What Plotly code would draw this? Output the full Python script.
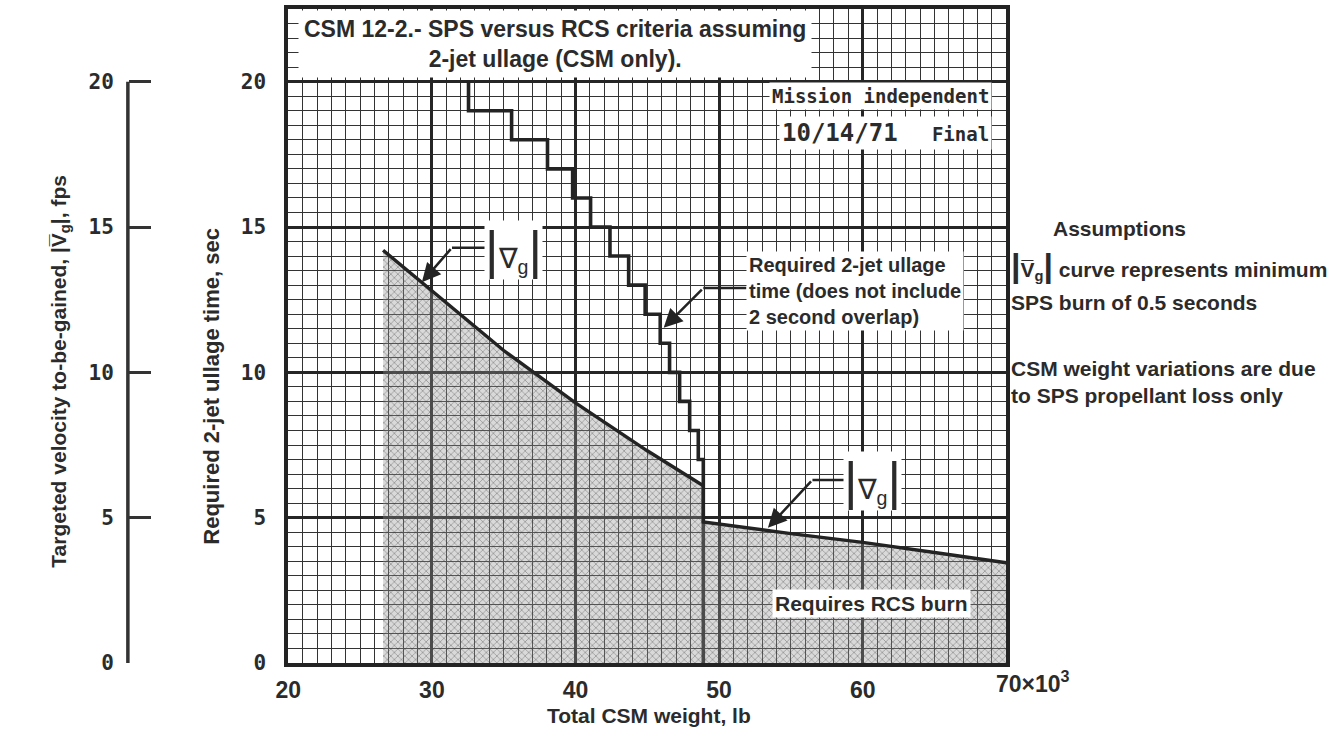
import plotly.graph_objects as go

# ---------------- data ----------------
# |Vg| minimum-burn boundary: total CSM weight (x10^3 lb) vs targeted velocity (fps)
VG_WEIGHT = [26.6, 30.0, 35.0, 40.0, 45.0, 48.9, 48.9, 55.0, 60.0, 65.0, 70.0]
VG_FPS = [14.2, 12.8, 10.75, 8.95, 7.3, 6.1, 4.85, 4.45, 4.15, 3.8, 3.45]

# Required 2-jet ullage time staircase (x10^3 lb, sec)
STEP_WEIGHT = [32.55, 32.55, 35.55, 38.05, 39.8, 41.05, 42.4, 43.7, 44.85,
               45.9, 46.55, 47.25, 47.95, 48.55, 48.9]
STEP_TIME = [20, 19, 18, 17, 16, 15, 14, 13, 12, 11, 10, 9, 8, 7, 0]

X_TICKS = [20, 30, 40, 50, 60]
X_TICK_LABELS = ["20", "30", "40", "50", "60"]
X_LAST_TICK = 70
X_LAST_LABEL = "70×10<sup>3</sup>"
Y_TICKS = [0, 5, 10, 15, 20]
Y_TICK_LABELS = ["0", "5", "10", "15", "20"]
X_RANGE = [20, 70]
Y_RANGE = [0, 22.5]

# ---------------- layout geometry ----------------
W, H = 1344, 743
PL, PR, PT, PB = 278, 1003, 9, 663
INK = "#232323"
TXT = "#2b2b2b"
SANS = "Liberation Sans, Arial, sans-serif"
MONO = "DejaVu Sans Mono, Liberation Mono, monospace"


def px_x(px):
    return px / W


def px_y(py):
    return (PB - py) / (PB - PT)


fig = go.Figure()

# ullage staircase (main axis, sec)
fig.add_trace(go.Scatter(
    x=STEP_WEIGHT, y=STEP_TIME, mode="lines",
    line=dict(shape="hv", color=INK, width=3.6),
    hoverinfo="skip", showlegend=False,
))

# |Vg| boundary + "Requires RCS burn" region (left axis, fps)
fig.add_trace(go.Scatter(
    x=VG_WEIGHT, y=VG_FPS, mode="lines", yaxis="y2",
    line=dict(color=INK, width=3.4),
    fill="tozeroy", fillcolor="rgba(150,150,150,0.36)",
    fillpattern=dict(shape="x", fgcolor="#333333", size=5, solidity=0.24,
                     fillmode="overlay"),
    hoverinfo="skip", showlegend=False,
))

fig.update_layout(
    width=W, height=H,
    margin=dict(l=0, r=0, t=PT, b=H - PB),
    paper_bgcolor="white", plot_bgcolor="white",
    showlegend=False,
    xaxis=dict(
        domain=[PL / W, PR / W], range=X_RANGE,
        tickmode="array", tickvals=X_TICKS, ticktext=X_TICK_LABELS,
        ticks="", tickfont=dict(family=SANS, size=23, color=TXT, weight="bold"),
        showgrid=True, gridcolor="#262626", gridwidth=2.8,
        minor=dict(dtick=1, showgrid=True, gridcolor="#333333", gridwidth=1.3),
        showline=True, linecolor=INK, linewidth=4, mirror=True,
        zeroline=False, ticklabelstandoff=3,
    ),
    yaxis=dict(
        range=Y_RANGE, tickmode="array", tickvals=Y_TICKS, ticktext=Y_TICK_LABELS,
        ticks="", tickfont=dict(family=MONO, size=21, color=TXT, weight="bold"),
        showgrid=True, gridcolor="#262626", gridwidth=2.8,
        minor=dict(dtick=0.5, showgrid=True, gridcolor="#333333", gridwidth=1.3),
        showline=True, linecolor=INK, linewidth=4, mirror=True,
        zeroline=False, ticklabelstandoff=14,
    ),
    yaxis2=dict(
        range=Y_RANGE, overlaying="y", anchor="free", side="left",
        position=px_x(116),
        tickmode="array", tickvals=Y_TICKS, ticktext=Y_TICK_LABELS,
        ticks="inside", ticklen=22, tickwidth=3, tickcolor="#333",
        tickfont=dict(family=MONO, size=21, color=TXT, weight="bold"),
        showgrid=False, showline=False, zeroline=False, ticklabelstandoff=14,
    ),
)

# bracket line of the left (fps) axis, 0..20
fig.add_shape(type="line", xref="paper", yref="y",
              x0=px_x(116), x1=px_x(116), y0=Y_TICKS[0], y1=Y_TICKS[-1],
              line=dict(color="#333", width=3.5))

# last x tick label
fig.add_annotation(x=X_LAST_TICK, y=0, xref="x", yref="y", yshift=-19,
                   text=X_LAST_LABEL, showarrow=False, xanchor="left", xshift=-12,
                   font=dict(family=SANS, size=23, color=TXT, weight="bold"))

# axis titles
fig.add_annotation(x=px_x(642), y=px_y(729), xref="paper", yref="paper",
                   text="Total CSM weight, lb", showarrow=False,
                   font=dict(family=SANS, size=21, color=TXT, weight="bold"))
fig.add_annotation(x=px_x(185), y=px_y(386), xref="paper", yref="paper",
                   text="Required 2-jet ullage time, sec", showarrow=False, textangle=-90,
                   font=dict(family=SANS, size=22, color=TXT, weight="bold"))
fig.add_annotation(x=px_x(32), y=px_y(371), xref="paper", yref="paper",
                   text="Targeted velocity to-be-gained, |V\u0305<sub>g</sub>|, fps",
                   showarrow=False, textangle=-90,
                   font=dict(family=SANS, size=21, color=TXT, weight="bold"))

# title box
fig.add_annotation(x=38.6, y=21.3, xref="x", yref="y",
                   text="CSM 12-2.- SPS versus RCS criteria assuming<br>2-jet ullage (CSM only).",
                   showarrow=False, bgcolor="white", borderpad=5, align="center",
                   font=dict(family=SANS, size=23, color=TXT, weight="bold"))

fig.add_annotation(x=68.97, y=19.5, xref="x", yref="y", xanchor="right",
                   text="Mission independent", showarrow=False, bgcolor="white", borderpad=2,
                   font=dict(family=MONO, size=19, color=TXT, weight="bold"))
fig.add_annotation(x=68.97, y=18.23, xref="x", yref="y", xanchor="right",
                   text='<span style="font-size:24px">10/14/71</span>   Final',
                   showarrow=False, bgcolor="white", borderpad=2,
                   font=dict(family=MONO, size=19, color=TXT, weight="bold"))

fig.add_annotation(x=60.6, y=2.03, xref="x", yref="y",
                   text="Requires RCS burn", showarrow=False, bgcolor="white", borderpad=2,
                   font=dict(family=SANS, size=21, color=TXT, weight="bold"))

# ullage curve label + leader
fig.add_annotation(x=51.86, y=12.8, xref="x", yref="y", xanchor="left",
                   text="Required 2-jet ullage<br>time (does not include<br>2 second overlap)",
                   showarrow=False, bgcolor="white", borderpad=2, align="left",
                   font=dict(family=SANS, size=20, color=TXT, weight="bold"))
fig.add_shape(type="line", xref="x", yref="y", x0=48.9, x1=51.9, y0=12.9, y1=12.9,
              line=dict(color=INK, width=2.5))
fig.add_annotation(x=46.14, y=11.53, ax=48.9, ay=12.9, xref="x", yref="y",
                   axref="x", ayref="y", text="", showarrow=True,
                   arrowhead=2, arrowsize=1.5, arrowwidth=2.5, arrowcolor=INK)

# |Vg| labels + leaders
VG_LABEL = ('<span style="font-size:52px">|</span>\u2207<sub>g</sub>'
            '<span style="font-size:52px">|</span>')
fig.add_annotation(x=35.66, y=14.2, xref="x", yref="y", text=VG_LABEL,
                   showarrow=False, bgcolor="white", borderpad=0,
                   font=dict(family=SANS, size=28, color=TXT))
fig.add_shape(type="line", xref="x", yref="y", x0=31.4, x1=34.0, y0=14.29, y1=14.29,
              line=dict(color=INK, width=2.5))
fig.add_annotation(x=29.3, y=13.1, ax=31.4, ay=14.29, xref="x", yref="y",
                   axref="x", ayref="y", text="", showarrow=True,
                   arrowhead=2, arrowsize=1.5, arrowwidth=2.5, arrowcolor=INK)

fig.add_annotation(x=60.7, y=6.27, xref="x", yref="y", text=VG_LABEL,
                   showarrow=False, bgcolor="white", borderpad=0,
                   font=dict(family=SANS, size=28, color=TXT))
fig.add_shape(type="line", xref="x", yref="y", x0=56.5, x1=59.1, y0=6.3, y1=6.3,
              line=dict(color=INK, width=2.5))
fig.add_annotation(x=53.4, y=4.65, ax=56.5, ay=6.3, xref="x", yref="y",
                   axref="x", ayref="y", text="", showarrow=True,
                   arrowhead=2, arrowsize=1.5, arrowwidth=2.5, arrowcolor=INK)

# assumptions block (right side)
RF = dict(family=SANS, size=21, color=TXT, weight="bold")
fig.add_annotation(x=px_x(1186), y=px_y(228), xref="paper", yref="paper",
                   text="Assumptions", showarrow=False, font=RF)
fig.add_annotation(x=px_x(1006), y=px_y(265), xref="paper", yref="paper", xanchor="left",
                   text='<span style="font-size:34px">|</span>V\u0305<sub>g</sub>'
                        '<span style="font-size:34px">|</span> curve represents minimum',
                   showarrow=False, font=RF)
fig.add_annotation(x=px_x(1006), y=px_y(302), xref="paper", yref="paper", xanchor="left",
                   text="SPS burn of 0.5 seconds", showarrow=False, font=RF)
fig.add_annotation(x=px_x(1006), y=px_y(382), xref="paper", yref="paper", xanchor="left",
                   text="CSM weight variations are due<br>to SPS propellant loss only",
                   showarrow=False, align="left", font=RF)

fig.write_html("out.html")
